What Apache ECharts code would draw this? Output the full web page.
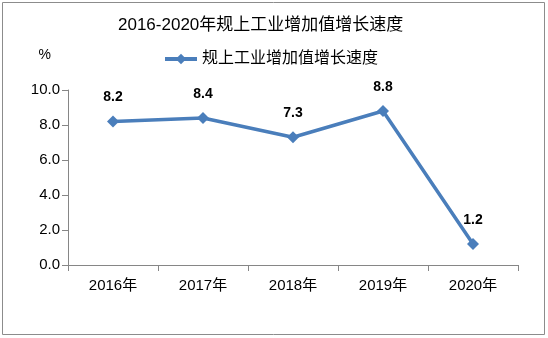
<!DOCTYPE html>
<html><head><meta charset="utf-8">
<script src="https://cdn.jsdelivr.net/npm/echarts@6/dist/echarts.min.js"></script>
<style>html,body{margin:0;padding:0;background:#fff}#c{width:548px;height:338px}</style>
</head><body><div id="c"></div>
<script>
const categories = ['2016年','2017年','2018年','2019年','2020年'];
const values = [8.2, 8.4, 7.3, 8.8, 1.2];
const seriesName = '规上工业增加值增长速度';
const titleText = '2016-2020年规上工业增加值增长速度';
const unitText = '%';

const font = '"Liberation Sans","Noto Sans CJK SC",sans-serif';
const chart = echarts.init(document.getElementById('c'));
chart.setOption({
  animation: false,
  backgroundColor: '#fff',
  graphic: [{type:'rect', shape:{x:2.5,y:2.5,width:542,height:332}, style:{fill:'none', stroke:'#8c8c8c', lineWidth:1}}],
  title: {text: titleText, left: 113, top: 12, textStyle:{fontFamily:font, fontSize:17, fontWeight:'normal', color:'#000'}},
  legend: {data:[seriesName], top: 46, left: 158, itemWidth: 32, itemHeight: 13, itemGap: 6,
    lineStyle:{width:4},
    textStyle:{fontFamily:font, fontSize:16, color:'#000'}},
  grid: {left: 68, right: 30, top: 90, bottom: 73},
  xAxis: {type:'category', data: categories, boundaryGap: true,
    axisLine:{lineStyle:{color:'#868686'}},
    axisTick:{show:true, length:6, alignWithLabel:false, lineStyle:{color:'#868686'}},
    axisLabel:{fontFamily:font, fontSize:15, color:'#000', margin:13}},
  yAxis: {type:'value', min:0, max:10, interval:2, name: unitText, nameLocation:'end', nameGap: 28,
    nameTextStyle:{fontFamily:font, fontSize:14, color:'#000', align:'right', padding:[0,17,0,0]},
    axisLine:{show:true, lineStyle:{color:'#868686'}},
    axisTick:{show:true, length:6, inside:false, lineStyle:{color:'#868686'}},
    splitLine:{show:false},
    axisLabel:{fontFamily:font, fontSize:15, color:'#000', margin:8, formatter: v => v.toFixed(1)}},
  series: [{name: seriesName, type:'line', data: values, symbol:'diamond', symbolSize: 12,
    lineStyle:{color:'#4a7ebb', width:3.5}, itemStyle:{color:'#4a7ebb'},
    label:{show:true, position:'top', distance: 11, fontFamily:font, fontSize:14, fontWeight:'bold', color:'#000',
      formatter: p => p.value.toFixed(1)}}]
});
</script></body></html>
